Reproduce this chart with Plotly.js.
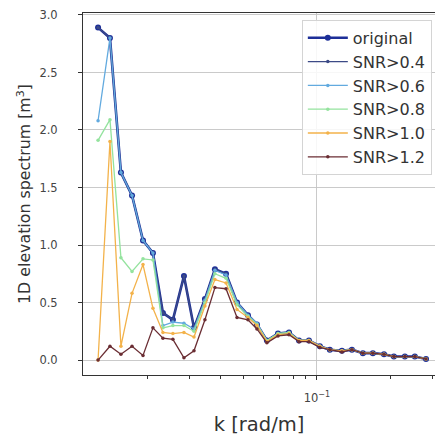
<!DOCTYPE html>
<html>
<head>
<meta charset="utf-8">
<script src="https://cdn.plot.ly/plotly-3.0.1.min.js"></script>
<style>html,body{margin:0;padding:0;background:#fff;}#chart{width:435px;height:436px;}</style>
</head>
<body>
<div id="chart"></div>
<script>
// wavenumber k [rad/m]
const k = [0.01256, 0.01406, 0.0156, 0.01733, 0.01923, 0.02113, 0.02323, 0.02553, 0.02835, 0.03118,
           0.03459, 0.03802, 0.04224, 0.04688, 0.052, 0.05662, 0.06223, 0.06913, 0.07674, 0.08435,
           0.0927, 0.1028, 0.113, 0.1267, 0.1393, 0.1546, 0.1699, 0.1888, 0.2074, 0.2301, 0.2529, 0.2812];

const original = [2.89, 2.80, 1.63, 1.43, 1.04, 0.93, 0.41, 0.35, 0.73, 0.28,
                  0.53, 0.79, 0.75, 0.50, 0.39, 0.31, 0.17, 0.23, 0.24, 0.17,
                  0.17, 0.12, 0.09, 0.08, 0.09, 0.06, 0.06, 0.05, 0.03, 0.03, 0.03, 0.01];
const snr04 = [2.89, 2.80, 1.63, 1.43, 1.04, 0.93, 0.41, 0.35, 0.73, 0.28,
               0.53, 0.79, 0.75, 0.50, 0.39, 0.31, 0.17, 0.23, 0.24, 0.17,
               0.17, 0.12, 0.09, 0.08, 0.09, 0.06, 0.06, 0.05, 0.03, 0.03, 0.03, 0.01];
const snr06 = [2.08, 2.80, 1.63, 1.43, 1.04, 0.93, 0.30, 0.33, 0.32, 0.27,
               0.52, 0.78, 0.74, 0.50, 0.39, 0.32, 0.17, 0.23, 0.24, 0.17,
               0.17, 0.12, 0.09, 0.08, 0.09, 0.06, 0.06, 0.05, 0.03, 0.03, 0.03, 0.01];
const snr08 = [1.91, 2.09, 0.89, 0.77, 0.88, 0.87, 0.28, 0.30, 0.30, 0.25,
               0.50, 0.75, 0.71, 0.48, 0.38, 0.31, 0.17, 0.23, 0.24, 0.17,
               0.17, 0.12, 0.09, 0.08, 0.09, 0.06, 0.06, 0.05, 0.03, 0.03, 0.03, 0.01];
const snr10 = [0.00, 1.90, 0.12, 0.58, 0.83, 0.45, 0.24, 0.23, 0.24, 0.20,
               0.47, 0.70, 0.67, 0.44, 0.37, 0.30, 0.16, 0.22, 0.23, 0.17,
               0.17, 0.12, 0.09, 0.08, 0.09, 0.06, 0.06, 0.05, 0.03, 0.03, 0.03, 0.01];
const snr12 = [0.00, 0.12, 0.05, 0.12, 0.04, 0.28, 0.19, 0.18, 0.02, 0.08,
               0.35, 0.63, 0.62, 0.37, 0.35, 0.27, 0.15, 0.21, 0.22, 0.16,
               0.16, 0.11, 0.09, 0.07, 0.09, 0.06, 0.06, 0.05, 0.03, 0.03, 0.03, 0.01];

const seriesNames = ['original', 'SNR>0.4', 'SNR>0.6', 'SNR>0.8', 'SNR>1.0', 'SNR>1.2'];
const seriesValues = [original, snr04, snr06, snr08, snr10, snr12];
const seriesColors = ['#1d2f98', '#3c4a86', '#62aadf', '#94e39e', '#f3b24a', '#6a2d33'];

const xTickVals = [0.1];
const xTickText = ['10<sup>\u22121</sup>'];
const xMinorTicks = [0.02, 0.03, 0.04, 0.05, 0.06, 0.07, 0.08, 0.09, 0.2, 0.3];
const yTickVals = [0.0, 0.5, 1.0, 1.5, 2.0, 2.5, 3.0];
const yTickText = ['0.0', '0.5', '1.0', '1.5', '2.0', '2.5', '3.0'];

const traces = seriesValues.map((vals, i) => ({
  type: 'scatter',
  mode: 'lines+markers',
  x: k,
  y: vals,
  name: seriesNames[i],
  line: {color: seriesColors[i], width: i === 0 ? 2.6 : 1.3},
  marker: {color: seriesColors[i], size: i === 0 ? 6 : 3.5}
}));

const font = 'DejaVu Sans, Liberation Sans, sans-serif';
const layout = {
  width: 435, height: 436,
  margin: {l: 83, r: 0, t: 13, b: 61},
  paper_bgcolor: '#ffffff', plot_bgcolor: '#ffffff',
  font: {family: font, color: '#333'},
  showlegend: true,
  legend: {
    x: 0.991, xanchor: 'right', y: 0.981, yanchor: 'top',
    bgcolor: 'rgba(255,255,255,0.85)', bordercolor: '#d4d4d4', borderwidth: 1,
    font: {family: font, size: 16, color: '#333'},
    itemwidth: 40
  },
  xaxis: {
    type: 'log',
    range: [-1.963, -0.514],
    tickmode: 'array', tickvals: xTickVals, ticktext: xTickText,
    ticks: 'outside', ticklen: 4, tickcolor: '#333', tickwidth: 1,
    tickfont: {family: font, size: 11.5, color: '#444'},
    ticklabelstandoff: 8,
    showgrid: true, gridcolor: '#c4c4c4', gridwidth: 0.9,
    showline: true, linecolor: '#333', linewidth: 1, mirror: true,
    zeroline: false,
    minor: {tickmode: 'array', tickvals: xMinorTicks, ticks: 'outside', ticklen: 2.5, tickcolor: '#333', showgrid: false},
    title: {text: 'k [rad/m]', font: {family: font, size: 19.5, color: '#333'}, standoff: 17}
  },
  yaxis: {
    range: [-0.13, 3.017],
    tickmode: 'array', tickvals: yTickVals, ticktext: yTickText,
    ticks: 'outside', ticklen: 4, tickcolor: '#333', tickwidth: 1,
    tickfont: {family: font, size: 11.5, color: '#444'},
    ticklabelstandoff: 18,
    showgrid: true, gridcolor: '#c4c4c4', gridwidth: 0.9,
    showline: true, linecolor: '#333', linewidth: 1, mirror: false,
    zeroline: false,
    title: {text: '1D elevation spectrum [m<sup>3</sup>]', font: {family: font, size: 15.8, color: '#333'}, standoff: 4}
  }
};

Plotly.newPlot('chart', traces, layout, {displayModeBar: false, staticPlot: true});
</script>
</body>
</html>
